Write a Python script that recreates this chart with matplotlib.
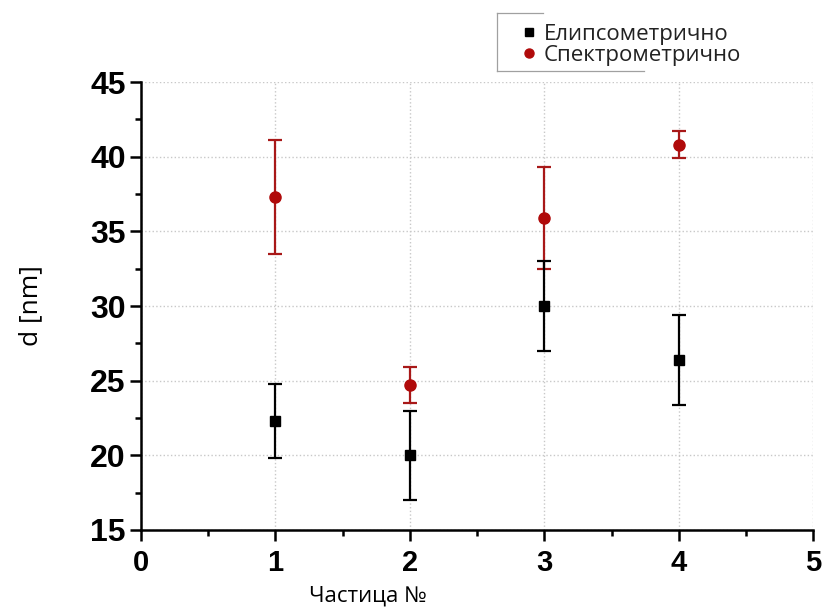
import numpy as np
import matplotlib.pyplot as plt
from matplotlib.lines import Line2D
from matplotlib.ticker import MultipleLocator

# particle numbers and measured thickness with errors
particles = [1, 2, 3, 4]
d_ellips = [22.3, 20.0, 30.0, 26.4]
err_ellips = [2.5, 3.0, 3.0, 3.0]
d_spectr = [37.3, 24.7, 35.9, 40.8]
err_spectr = [3.8, 1.2, 3.4, 0.9]

label_ellips = "Елипсометрично"
label_spectr = "Спектрометрично"

red = '#b00a0a'

fig = plt.figure(figsize=(8.22, 6.12), dpi=100)
ax = fig.add_axes([0.1715, 0.134, 0.818, 0.732])

ax.errorbar(particles, d_spectr, yerr=err_spectr, fmt='o', color=red,
            ecolor='#a81818', elinewidth=1.6, capsize=5, capthick=1.6,
            markersize=8, zorder=3)
ax.errorbar(particles, d_ellips, yerr=err_ellips, fmt='s', color='black',
            ecolor='black', elinewidth=1.6, capsize=5, capthick=1.6,
            markersize=7.5, zorder=4)

ax.set_xlim(0, 5)
ax.set_ylim(15, 45)
ax.xaxis.set_major_locator(MultipleLocator(1))
ax.xaxis.set_minor_locator(MultipleLocator(0.5))
ax.yaxis.set_major_locator(MultipleLocator(5))
ax.yaxis.set_minor_locator(MultipleLocator(2.5))

for side in ['top', 'right']:
    ax.spines[side].set_visible(False)
for side in ['left', 'bottom']:
    ax.spines[side].set_linewidth(1.8)

ax.tick_params(which='major', direction='out', length=8, width=1.8)
ax.tick_params(which='minor', direction='out', length=4, width=1.8)
ax.tick_params(axis='y', pad=3)
ax.tick_params(axis='x', pad=6)
for lbl in ax.get_yticklabels():
    lbl.set_fontfamily('Liberation Sans')
    lbl.set_fontweight('bold')
    lbl.set_fontsize(23)
for lbl in ax.get_xticklabels():
    lbl.set_fontfamily('Liberation Sans')
    lbl.set_fontweight('bold')
    lbl.set_fontsize(21)

ax.grid(True, which='major', linestyle=':', color='#c8c8c8', linewidth=1.0)
ax.set_axisbelow(True)

ax.set_ylabel('d [nm]', fontsize=19, family='Open Sans', labelpad=34)
ax.set_xlabel('Частица №', fontsize=16, family='Open Sans', labelpad=0)
ax.xaxis.set_label_coords(0.338, -0.125)

# legend with small marker-only handles
handles = [Line2D([], [], linestyle='none', marker='s', color='black', markersize=6),
           Line2D([], [], linestyle='none', marker='o', color=red, markersize=6.5)]
leg = fig.legend(handles, [label_ellips, label_spectr],
                 loc='upper left', bbox_to_anchor=(0.613, 0.994),
                 frameon=False, handlelength=0.5,
                 handletextpad=0.4, labelspacing=0.0,
                 prop={'family': 'Open Sans', 'size': 16})
for t in leg.get_texts():
    t.set_color('#222222')

# partial box around the legend
frame_kw = dict(color='#a0a0a0', linewidth=0.9, transform=fig.transFigure)
fig.add_artist(Line2D([0.605, 0.605], [0.884, 0.979], **frame_kw))
fig.add_artist(Line2D([0.605, 0.66], [0.979, 0.979], **frame_kw))
fig.add_artist(Line2D([0.605, 0.783], [0.884, 0.884], **frame_kw))

fig.savefig('out.png', dpi=100)
